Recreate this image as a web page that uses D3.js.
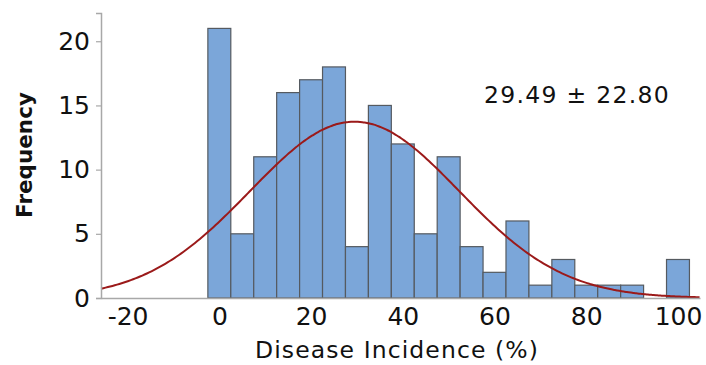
<!DOCTYPE html>
<html>
<head>
<meta charset="utf-8">
<script src="https://cdn.jsdelivr.net/npm/d3@7"></script>
<style>
  html, body { margin: 0; padding: 0; background: #fff; }
  svg { display: block; }
  text { font-family: "DejaVu Sans", Verdana, sans-serif; fill: #111; }
</style>
</head>
<body>
<svg id="chart" width="706" height="365"></svg>
<script>
// Histogram bins (centre of each 5-point bin) and their counts
const binCenters = [0, 5, 10, 15, 20, 25, 30, 35, 40, 45, 50, 55, 60, 65, 70, 75, 80, 85, 90, 95, 100];
const binCounts  = [21, 5, 11, 16, 17, 18, 4, 15, 12, 5, 11, 4, 2, 6, 1, 3, 1, 1, 1, 0, 3];
const binWidth = 5;
const xTicks = [-20, 0, 20, 40, 60, 80, 100];
const yTicks = [0, 5, 10, 15, 20];
const meanValue = 29.49;
const sdValue = 22.80;

const svg = d3.select("#chart");
const margin = { left: 101, right: 6, top: 13, bottom: 67 };
const W = 706, H = 365;

const x = d3.scaleLinear().domain([-25.8, 104.8]).range([margin.left, W - margin.right]);
const y = d3.scaleLinear().domain([0, 22.2]).range([H - margin.bottom, margin.top]);

const bins = binCenters.map((c, i) => ({ c, n: binCounts[i] })).filter(d => d.n > 0);

// Bars
svg.append("g").selectAll("rect").data(bins).join("rect")
  .attr("x", d => x(d.c - binWidth / 2))
  .attr("width", d => x(d.c + binWidth / 2) - x(d.c - binWidth / 2))
  .attr("y", d => y(d.n))
  .attr("height", d => y(0) - y(d.n))
  .attr("fill", "#7ba6d9")
  .attr("stroke", "#555a60")
  .attr("stroke-width", 1.2);

// Fitted normal curve scaled to counts
const total = d3.sum(binCounts);
const pdf = v => Math.exp(-0.5 * ((v - meanValue) / sdValue) ** 2) / (sdValue * Math.sqrt(2 * Math.PI));
const curvePts = d3.range(-25.8, 104.81, 0.5).map(v => [v, total * binWidth * pdf(v)]);
svg.append("path")
  .datum(curvePts)
  .attr("fill", "none")
  .attr("stroke", "#9b1a1a")
  .attr("stroke-width", 2)
  .attr("d", d3.line().x(d => x(d[0])).y(d => y(d[1])).curve(d3.curveMonotoneX));

// Axes
const fmt = d => String(d); // plain hyphen for negatives
const xAxis = svg.append("g")
  .attr("transform", `translate(0,${y(0)})`)
  .call(d3.axisBottom(x).tickValues(xTicks).tickFormat(fmt).tickSize(0).tickPadding(9));
const yAxis = svg.append("g")
  .attr("transform", `translate(${margin.left},0)`)
  .call(d3.axisLeft(y).tickValues(yTicks).tickFormat(fmt).tickSize(5).tickPadding(6));

[xAxis, yAxis].forEach(g => {
  g.select(".domain").attr("stroke", "#a8a8a8").attr("stroke-width", 1.5);
  g.selectAll(".tick line").attr("stroke", "#a8a8a8").attr("stroke-width", 1.2);
  g.selectAll(".tick text")
    .attr("font-family", "'DejaVu Sans', Verdana, sans-serif")
    .attr("font-size", 25)
    .attr("fill", "#111");
});

// Axis titles
svg.append("text")
  .attr("x", 397).attr("y", 358)
  .attr("text-anchor", "middle")
  .attr("font-size", 23.5)
  .attr("letter-spacing", 1.1)
  .text("Disease Incidence (%)");

svg.append("text")
  .attr("transform", "translate(32,155) rotate(-90)")
  .attr("text-anchor", "middle")
  .attr("font-size", 21.5)
  .attr("font-weight", "bold")
  .text("Frequency");

// Mean ± SD annotation
svg.append("text")
  .attr("x", 577).attr("y", 103)
  .attr("text-anchor", "middle")
  .attr("font-size", 23.5)
  .attr("letter-spacing", 1.3)
  .text(`${meanValue.toFixed(2)} ± ${sdValue.toFixed(2)}`);
</script>
</body>
</html>
